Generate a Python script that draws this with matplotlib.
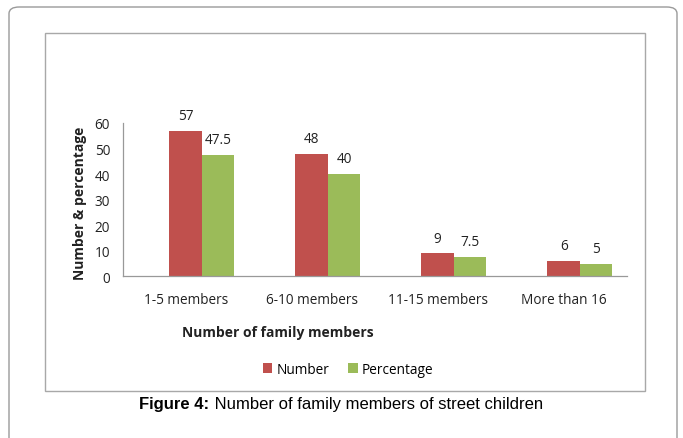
import matplotlib
matplotlib.use("Agg")
from matplotlib import pyplot as plt
from matplotlib.patches import Rectangle, FancyBboxPatch
import numpy as np

categories = ["1-5 members", "6-10 members", "11-15 members", "More than 16"]
number = [57, 48, 9, 6]
percentage = [47.5, 40, 7.5, 5]
number_labels = ["57", "48", "9", "6"]
percentage_labels = ["47.5", "40", "7.5", "5"]

RED = "#C0504D"
GREEN = "#9BBB59"
W, H = 683, 439
FS = 9.8

plt.rcParams["font.family"] = ["Open Sans", "DejaVu Sans"]

fig = plt.figure(figsize=(W / 100, H / 100), dpi=100)


def fx(px):
    return px / W


def fy(py):
    return 1 - py / H


# outer rounded frame (bottom runs off the page)
outer = FancyBboxPatch((fx(9), fy(470)), fx(668), (470 - 8) / H,
                       boxstyle="round,pad=0,rounding_size=0.015",
                       transform=fig.transFigure, fill=False,
                       edgecolor="#9a9a9a", linewidth=1.0)
fig.patches.append(outer)

# inner chart frame
inner = Rectangle((fx(45), fy(392)), fx(645 - 45), (392 - 34) / H,
                  transform=fig.transFigure, fill=False,
                  edgecolor="#a8a8a8", linewidth=1.0)
fig.patches.append(inner)

ax = fig.add_axes([fx(122.7), fy(277.3), fx(626.7 - 122.7), (277.3 - 124) / H])

x = np.arange(len(categories))
bw = 0.258
ax.bar(x, number, width=bw, color=RED, label="Number")
ax.bar(x + bw, percentage, width=bw, color=GREEN, label="Percentage")

for i in range(len(categories)):
    ax.text(x[i], number[i] + 3.0, number_labels[i], ha="center", va="bottom",
            fontsize=FS, color="#222222", clip_on=False)
    ax.text(x[i] + bw, percentage[i] + 3.0, percentage_labels[i], ha="center",
            va="bottom", fontsize=FS, color="#222222", clip_on=False)

ax.set_xlim(-0.5, 3.5)
ax.set_ylim(0, 60)
ax.set_yticks(range(0, 61, 10))
ax.set_xticks(x)
ax.set_xticklabels(categories)
ax.tick_params(length=0, labelsize=FS, colors="#222222")
ax.tick_params(axis="x", pad=11)
ax.tick_params(axis="y", pad=9)
for s in ["top", "right"]:
    ax.spines[s].set_visible(False)
for s in ["left", "bottom"]:
    ax.spines[s].set_color("#999999")
    ax.spines[s].set_linewidth(0.9)

fig.text(fx(80), fy(203), "Number & percentage", rotation=90, ha="center",
         va="center", fontsize=10, fontweight="bold", color="#222222")
fig.text(fx(278), fy(333), "Number of family members", ha="center",
         va="center", fontsize=10, fontweight="bold", color="#222222")

fig.legend(loc="center", bbox_to_anchor=(fx(348), fy(370)), ncol=2, frameon=False,
           fontsize=FS, handlelength=0.7, handleheight=0.7, handletextpad=0.3,
           columnspacing=1.4)

# caption: bold prefix + regular text, centred together
renderer = fig.canvas.get_renderer()
cap_b = fig.text(0, fy(405), "Figure 4:", ha="left", va="center", fontsize=12,
                 fontweight="bold", family="Liberation Sans")
cap_r = fig.text(0, fy(405), " Number of family members of street children",
                 ha="left", va="center", fontsize=12, family="Liberation Sans")
wb = cap_b.get_window_extent(renderer).width
wr = cap_r.get_window_extent(renderer).width
start = 341 - (wb + wr) / 2
cap_b.set_x(fx(start))
cap_r.set_x(fx(start + wb))

fig.savefig("out.png", dpi=100)
